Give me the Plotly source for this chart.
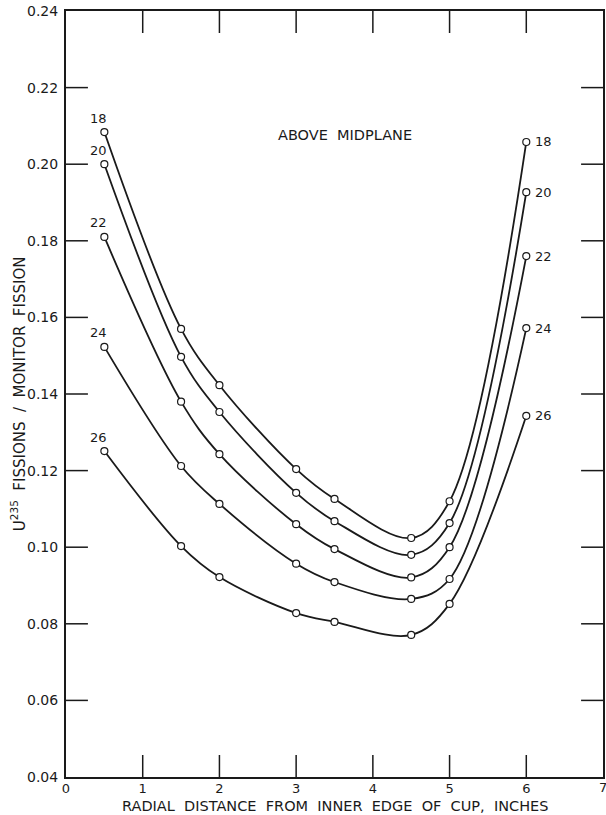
import plotly.graph_objects as go

# Data
x_pos = [0.5, 1.5, 2.0, 3.0, 3.5, 4.5, 5.0, 6.0]
series_labels = ["18", "20", "22", "24", "26"]
y_18 = [0.2084, 0.1570, 0.1423, 0.1204, 0.1126, 0.1024, 0.1120, 0.2058]
y_20 = [0.2000, 0.1497, 0.1353, 0.1142, 0.1068, 0.0980, 0.1063, 0.1927]
y_22 = [0.1810, 0.1380, 0.1243, 0.1060, 0.0995, 0.0921, 0.1000, 0.1760]
y_24 = [0.1523, 0.1212, 0.1113, 0.0957, 0.0909, 0.0865, 0.0917, 0.1572]
y_26 = [0.1251, 0.1003, 0.0922, 0.0828, 0.0805, 0.0771, 0.0852, 0.1343]
all_series = [y_18, y_20, y_22, y_24, y_26]

x_ticks = [0, 1, 2, 3, 4, 5, 6, 7]
y_ticks = [0.04, 0.06, 0.08, 0.10, 0.12, 0.14, 0.16, 0.18, 0.20, 0.22, 0.24]
y_tick_text = ["0.04", "0.06", "0.08", "0.10", "0.12", "0.14", "0.16", "0.18", "0.20", "0.22", "0.24"]

FONT = "DejaVu Sans"
INK = "#1a1a1a"
W, H = 606, 815
M = dict(l=66, r=1, t=11, b=38)
PLOT_W = W - M["l"] - M["r"]
PLOT_H = H - M["t"] - M["b"]
TICK_LEN = 22

fig = go.Figure()
for name, ys in zip(series_labels, all_series):
    fig.add_trace(go.Scatter(
        x=x_pos, y=ys, mode="lines+markers", name=name,
        line=dict(color=INK, width=1.8, shape="spline", smoothing=1.0),
        marker=dict(symbol="circle", size=7, color="white",
                    line=dict(color=INK, width=1.2)),
        showlegend=False, hoverinfo="skip",
    ))

# inward tick marks on all four sides, placed at the tick values
shapes = []
fy = TICK_LEN / PLOT_H
fx = TICK_LEN / PLOT_W
for xv in x_ticks[1:-1]:
    for y0, y1 in [(0, fy), (1, 1 - fy)]:
        shapes.append(dict(type="line", xref="x", yref="y domain", x0=xv, x1=xv,
                           y0=y0, y1=y1, line=dict(color=INK, width=1.5), layer="above"))
for yv in y_ticks[1:-1]:
    for x0, x1 in [(0, fx), (1, 1 - fx)]:
        shapes.append(dict(type="line", xref="x domain", yref="y", x0=x0, x1=x1,
                           y0=yv, y1=yv, line=dict(color=INK, width=1.5), layer="above"))

annotations = []
for name, ys in zip(series_labels, all_series):
    annotations.append(dict(x=x_pos[0], y=ys[0], xref="x", yref="y", text=name,
                            showarrow=False, xshift=-6, yshift=14,
                            font=dict(family=FONT, size=13, color=INK)))
    annotations.append(dict(x=x_pos[-1], y=ys[-1], xref="x", yref="y", text=name,
                            showarrow=False, xanchor="left", xshift=7, yshift=0,
                            font=dict(family=FONT, size=13, color=INK)))

annotations.append(dict(x=3.64, y=0.2076, xref="x", yref="y", text="ABOVE  MIDPLANE",
                        showarrow=False, font=dict(family=FONT, size=14.5, color=INK)))
# tick label "7" at the right edge (cut by the page edge as in the reference)
annotations.append(dict(x=x_ticks[-1], y=y_ticks[0], xref="x", yref="y",
                        text=str(x_ticks[-1]), showarrow=False, yanchor="top", yshift=-1,
                        font=dict(family=FONT, size=13, color=INK)))
annotations.append(dict(x=0.5, y=-0.0385, xref="paper", yref="paper",
                        text="RADIAL  DISTANCE  FROM  INNER  EDGE  OF  CUP,  INCHES",
                        showarrow=False, yanchor="middle",
                        font=dict(family=FONT, size=14.5, color=INK)))
annotations.append(dict(x=-0.089, y=0.5, xref="paper", yref="paper",
                        text="U<sup>235</sup>  FISSIONS  /  MONITOR  FISSION",
                        textangle=-90, showarrow=False, xanchor="center",
                        font=dict(family=FONT, size=15, color=INK)))

axis_common = dict(ticks="", showgrid=False, zeroline=False,
                   showline=True, linecolor=INK, linewidth=2, mirror=True)

fig.update_layout(
    width=W, height=H,
    margin=M,
    paper_bgcolor="white", plot_bgcolor="white",
    annotations=annotations, shapes=shapes,
    font=dict(family=FONT, size=13, color=INK),
    xaxis=dict(range=[0, 7], tickvals=x_ticks, ticktext=[str(v) for v in x_ticks],
               tickfont=dict(family=FONT, size=13, color=INK), ticklabelstandoff=-2,
               **axis_common),
    yaxis=dict(range=[0.04, 0.24], tickvals=y_ticks, ticktext=y_tick_text,
               tickfont=dict(family=FONT, size=14, color=INK), ticklabelstandoff=3,
               **axis_common),
)

fig.write_html("out.html")
